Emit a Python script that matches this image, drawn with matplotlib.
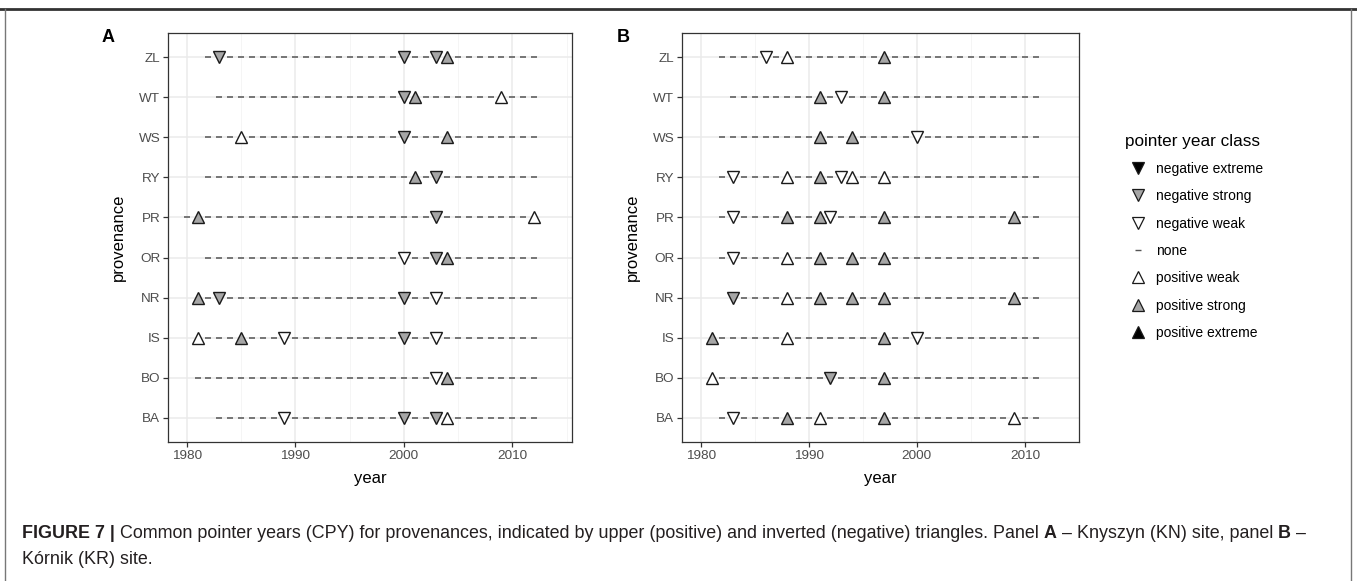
import matplotlib
matplotlib.use("Agg")
import matplotlib.pyplot as plt
from matplotlib.lines import Line2D

plt.rcParams['font.family'] = ['Liberation Sans', 'DejaVu Sans']

###########################################
# Data

provenances = ["BA", "BO", "IS", "NR", "OR", "PR", "RY", "WS", "WT", "ZL"]

# first and last year of each provenance series (same order as above)
start_a = [1983, 1981, 1981, 1981, 1982, 1980, 1982, 1982, 1983, 1982]
end_a = [2012, 2012, 2012, 2012, 2012, 2012, 2012, 2012, 2012, 2012]
start_b = [1982, 1981, 1981, 1983, 1982, 1982, 1982, 1982, 1983, 1982]
end_b = [2011, 2011, 2011, 2011, 2011, 2011, 2011, 2011, 2011, 2011]

# pointer years: (provenance, year, class)
events_a = [
    ("ZL", 1983, "negative strong"), ("ZL", 2000, "negative strong"),
    ("ZL", 2003, "negative strong"), ("ZL", 2004, "positive strong"),
    ("WT", 2000, "negative strong"), ("WT", 2001, "positive strong"),
    ("WT", 2009, "positive weak"),
    ("WS", 1985, "positive weak"), ("WS", 2000, "negative strong"),
    ("WS", 2004, "positive strong"),
    ("RY", 2001, "positive strong"), ("RY", 2003, "negative strong"),
    ("PR", 1981, "positive strong"), ("PR", 2003, "negative strong"),
    ("PR", 2012, "positive weak"),
    ("OR", 2000, "negative weak"), ("OR", 2003, "negative strong"),
    ("OR", 2004, "positive strong"),
    ("NR", 1981, "positive strong"), ("NR", 1983, "negative strong"),
    ("NR", 2000, "negative strong"), ("NR", 2003, "negative weak"),
    ("IS", 1981, "positive weak"), ("IS", 1985, "positive strong"),
    ("IS", 1989, "negative weak"), ("IS", 2000, "negative strong"),
    ("IS", 2003, "negative weak"),
    ("BO", 2003, "negative weak"), ("BO", 2004, "positive strong"),
    ("BA", 1989, "negative weak"), ("BA", 2000, "negative strong"),
    ("BA", 2003, "negative strong"), ("BA", 2004, "positive weak"),
]

events_b = [
    ("ZL", 1986, "negative weak"), ("ZL", 1988, "positive weak"),
    ("ZL", 1997, "positive strong"),
    ("WT", 1991, "positive strong"), ("WT", 1993, "negative weak"),
    ("WT", 1997, "positive strong"),
    ("WS", 1991, "positive strong"), ("WS", 1994, "positive strong"),
    ("WS", 2000, "negative weak"),
    ("RY", 1983, "negative weak"), ("RY", 1988, "positive weak"),
    ("RY", 1991, "positive strong"), ("RY", 1993, "negative weak"),
    ("RY", 1994, "positive weak"), ("RY", 1997, "positive weak"),
    ("PR", 1983, "negative weak"), ("PR", 1988, "positive strong"),
    ("PR", 1991, "positive strong"), ("PR", 1992, "negative weak"),
    ("PR", 1997, "positive strong"), ("PR", 2009, "positive strong"),
    ("OR", 1983, "negative weak"), ("OR", 1988, "positive weak"),
    ("OR", 1991, "positive strong"), ("OR", 1994, "positive strong"),
    ("OR", 1997, "positive strong"),
    ("NR", 1983, "negative strong"), ("NR", 1988, "positive weak"),
    ("NR", 1991, "positive strong"), ("NR", 1994, "positive strong"),
    ("NR", 1997, "positive strong"), ("NR", 2009, "positive strong"),
    ("IS", 1981, "positive strong"), ("IS", 1988, "positive weak"),
    ("IS", 1997, "positive strong"), ("IS", 2000, "negative weak"),
    ("BO", 1981, "positive weak"), ("BO", 1992, "negative strong"),
    ("BO", 1997, "positive strong"),
    ("BA", 1983, "negative weak"), ("BA", 1988, "positive strong"),
    ("BA", 1991, "positive weak"), ("BA", 1997, "positive strong"),
    ("BA", 2009, "positive weak"),
]

classes = ["negative extreme", "negative strong", "negative weak", "none",
           "positive weak", "positive strong", "positive extreme"]

###########################################
# Styles

grey = "#A6A6A6"
style = {
    "negative extreme": dict(marker="v", mfc="black"),
    "negative strong": dict(marker="v", mfc=grey),
    "negative weak": dict(marker="v", mfc="white"),
    "positive weak": dict(marker="^", mfc="white"),
    "positive strong": dict(marker="^", mfc=grey),
    "positive extreme": dict(marker="^", mfc="black"),
}


def draw_panel(ax, start, end, events, xlim, label):
    ypos = {p: i + 1 for i, p in enumerate(provenances)}

    # "none" years drawn as small dashes
    for i, p in enumerate(provenances):
        marked = [e[1] for e in events if e[0] == p]
        yrs = [y for y in range(start[i], end[i] + 1) if y not in marked]
        ax.plot(yrs, [ypos[p]] * len(yrs), ls="none", marker="_",
                ms=4.6, mew=1.1, color="#555555", zorder=3)

    for c in classes:
        if c == "none":
            continue
        xs = [e[1] for e in events if e[2] == c]
        ys = [ypos[e[0]] for e in events if e[2] == c]
        if not xs:
            continue
        ax.plot(xs, ys, ls="none", ms=9.2, mec="#1a1a1a", mew=1.0,
                zorder=4, **style[c])

    ax.set_xlim(*xlim)
    ax.set_ylim(0.4, 10.6)
    ax.set_yticks(range(1, len(provenances) + 1))
    ax.set_yticklabels(provenances)
    ax.set_xticks([1980, 1990, 2000, 2010])
    ax.set_xticks([1985, 1995, 2005, 2015], minor=True)
    ax.grid(True, which="major", color="#EBEBEB", lw=1.1, zorder=0)
    ax.grid(True, which="minor", axis="x", color="#F4F4F4", lw=0.6, zorder=0)
    ax.set_axisbelow(True)
    for s in ax.spines.values():
        s.set_color("#333333")
        s.set_linewidth(0.9)
    ax.tick_params(which="major", length=3.5, width=0.9, color="#333333",
                   labelsize=9.7, labelcolor="#4D4D4D", pad=2)
    ax.tick_params(which="minor", length=0)
    ax.set_xlabel("year", fontsize=12, labelpad=7)
    ax.set_ylabel("provenance", fontsize=12, labelpad=9)
    ax.text(-0.165, 0.988, label, transform=ax.transAxes, fontsize=13,
            fontweight="bold", va="center", ha="left")


fig = plt.figure(figsize=(13.57, 5.81), dpi=100)
W, H = 1357.0, 581.0

ax_a = fig.add_axes([168 / W, 1 - 442 / H, 404 / W, 409 / H])
ax_b = fig.add_axes([682 / W, 1 - 442 / H, 397 / W, 409 / H])

draw_panel(ax_a, start_a, end_a, events_a, (1978.27, 2015.5), "A")
draw_panel(ax_b, start_b, end_b, events_b, (1978.27, 2015.0), "B")

# legend
handles = []
for c in classes:
    if c == "none":
        handles.append(Line2D([], [], ls="none", marker="_", ms=5,
                              mew=1.0, color="#555555"))
    else:
        handles.append(Line2D([], [], ls="none", ms=8, mec="#1a1a1a",
                              mew=0.9, **style[c]))
leg = fig.legend(handles, classes, title="pointer year class",
                 loc="upper left", bbox_to_anchor=(1119 / W, 1 - 128 / H),
                 frameon=False, fontsize=10, title_fontsize=12.3,
                 labelspacing=0.96, handletextpad=0.35, handlelength=1.9,
                 borderaxespad=0)
leg._legend_box.align = "left"

# figure frame
fig.add_artist(Line2D([0, 1], [1 - 8.5 / H, 1 - 8.5 / H], color="#333333",
                      lw=2.0, transform=fig.transFigure))
fig.add_artist(Line2D([5 / W, 5 / W], [0, 1 - 9 / H], color="#777777",
                      lw=1.0, transform=fig.transFigure))
fig.add_artist(Line2D([1351 / W, 1351 / W], [0, 1 - 9 / H], color="#777777",
                      lw=1.0, transform=fig.transFigure))

# caption with mixed weights
cap_size = 12.9
line1 = [("FIGURE 7 |", "bold"),
         (" Common pointer years (CPY) for provenances, indicated by upper "
          "(positive) and inverted (negative) triangles. Panel ", "normal"),
         ("A", "bold"),
         (" \u2013 Knyszyn (KN) site, panel ", "normal"),
         ("B", "bold"),
         (" \u2013", "normal")]
line2 = [("K\u00f3rnik (KR) site.", "normal")]

renderer = fig.canvas.get_renderer()
for parts, ypix in ((line1, 538), (line2, 564)):
    x = 22 / W
    for txt, wt in parts:
        t = fig.text(x, 1 - ypix / H, txt, fontsize=cap_size, fontweight=wt,
                     color="#231F20", va="baseline", ha="left")
        bb = t.get_window_extent(renderer=renderer)
        x += bb.width / W

fig.savefig("out.png", dpi=100)
